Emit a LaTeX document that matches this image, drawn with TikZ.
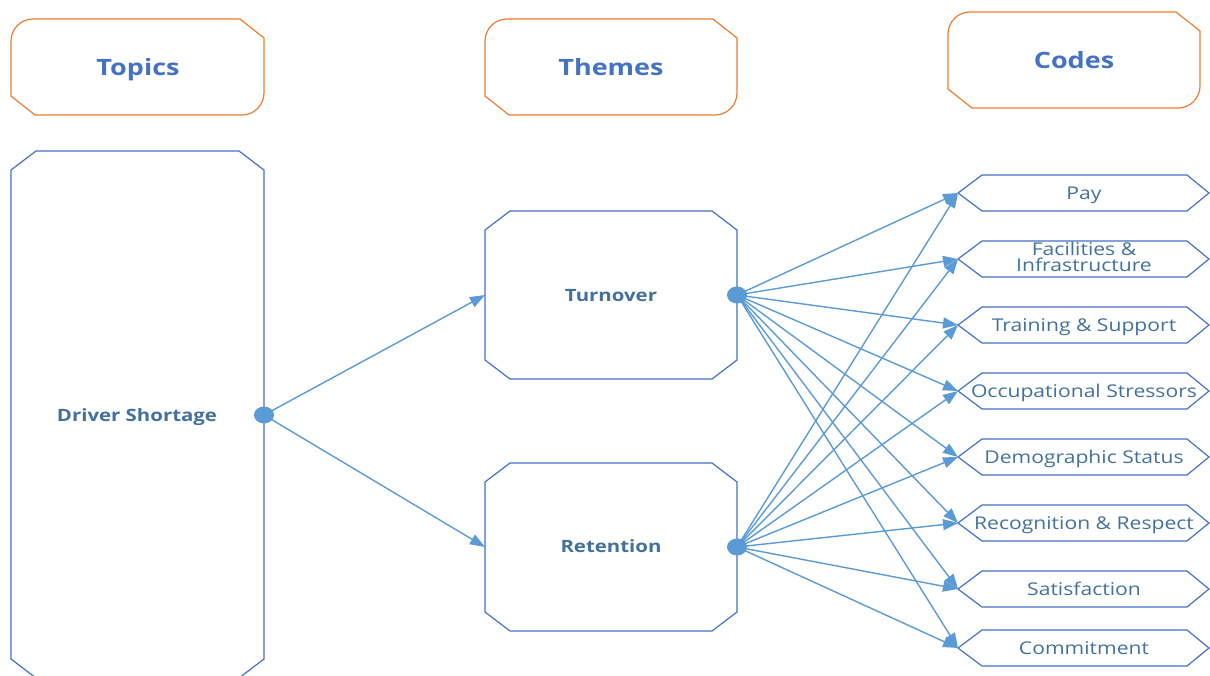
\documentclass[tikz,border=0pt]{standalone}
\usepackage{fontspec}
\setmainfont{Open Sans}[FakeStretch=1.2]
\usetikzlibrary{arrows.meta,shapes.geometric}
\definecolor{hdrline}{HTML}{ED7D31}
\definecolor{hdrtext}{HTML}{4472C4}
\definecolor{boxline}{HTML}{4472C4}
\definecolor{boxtext}{HTML}{41719C}
\definecolor{connc}{HTML}{5B9BD5}
\tikzset{
  hdrborder/.style={draw=hdrline, line width=1.2pt},
  boxborder/.style={draw=boxline, line width=1.2pt},
  hdrtxt/.style={text=hdrtext, font=\fontsize{22.5}{26}\selectfont\bfseries, inner sep=0pt, anchor=base},
  boxtxt/.style={text=boxtext, font=\fontsize{17}{20}\selectfont\bfseries, inner sep=0pt, anchor=base},
  codetxt/.style={text=boxtext, font=\fontsize{17.6}{16}\selectfont, inner sep=0pt, align=center, anchor=base},
  conn/.style={draw=connc, line width=1.4pt, -{Triangle[length=15pt,width=11pt]}},
  dot/.style={ellipse, fill=connc, inner sep=0pt, minimum width=20pt, minimum height=17pt}
}
\newcommand\hdrshape[4]{\draw[hdrborder] (#1,-#2-22) arc[start angle=180,end angle=90,radius=22] -- (#3-24,-#2) -- (#3,-#2-19) -- (#3,-#4+22) arc[start angle=0,end angle=-90,radius=22] -- (#1+24,-#4) -- (#1,-#4+19) -- cycle;}
\newcommand\octshape[4]{\draw[boxborder] (#1+25,-#2) -- (#3-25,-#2) -- (#3,-#2-19) -- (#3,-#4+19) -- (#3-25,-#4) -- (#1+25,-#4) -- (#1,-#4+19) -- (#1,-#2-19) -- cycle;}
\newcommand\codeshape[2]{\draw[boxborder] (958,-#2) -- (982,-#2+18) -- (1187,-#2+18) -- (1209,-#2) -- (1187,-#2-18) -- (982,-#2-18) -- cycle;
  \coordinate (#1) at (958,-#2);}
\begin{document}
\begin{tikzpicture}[x=1pt,y=1pt]
\useasboundingbox (0,0) rectangle (1210,-675);
\clip (0,0) rectangle (1210,-675);
% headers
\hdrshape{11}{19}{264}{115}
\hdrshape{485}{19}{737}{115}
\hdrshape{948}{12}{1200}{108}
\node[hdrtxt] (topics) at (138,-75) {Topics};
\node[hdrtxt] (themes) at (611,-75) {Themes};
\node[hdrtxt] (codes) at (1074,-68) {Codes};
% boxes
\octshape{11}{151}{264}{678}
\octshape{485}{211}{737}{379}
\octshape{485}{463}{737}{631}
\node[boxtxt] (driver) at (137,-421) {Driver Shortage};
\node[boxtxt] (turnover) at (611,-301) {Turnover};
\node[boxtxt] (retention) at (611,-552) {Retention};
% codes
\codeshape{pay}{193}
\codeshape{fac}{259}
\codeshape{trn}{325}
\codeshape{occ}{391}
\codeshape{dem}{457}
\codeshape{rec}{523}
\codeshape{sat}{589}
\codeshape{com}{648}
\node[codetxt] (payT) at (1084,-199) {Pay};
\node[codetxt] (facT) at (1084,-271) {Facilities \&\\Infrastructure};
\node[codetxt] (trnT) at (1084,-331) {Training \& Support};
\node[codetxt] (occT) at (1084,-397) {Occupational Stressors};
\node[codetxt] (demT) at (1084,-463) {Demographic Status};
\node[codetxt] (recT) at (1084,-529) {Recognition \& Respect};
\node[codetxt] (satT) at (1084,-595) {Satisfaction};
\node[codetxt] (comT) at (1084,-654) {Commitment};
% connectors
\coordinate (ds) at (264,-415);
\coordinate (td) at (737,-295);
\coordinate (rd) at (737,-547);
\coordinate (turnIn) at (485,-295);
\coordinate (retIn) at (485,-547);
\draw[conn] (ds) -- (turnIn);
\draw[conn] (ds) -- (retIn);
\foreach \c in {pay,fac,trn,occ,dem,rec,sat,com}{
  \draw[conn] (td) -- (\c);
  \draw[conn] (rd) -- (\c);
}
\node[dot] (dsdot) at (ds) {};
\node[dot] (tdot) at (td) {};
\node[dot] (rdot) at (rd) {};
\end{tikzpicture}
\end{document}
